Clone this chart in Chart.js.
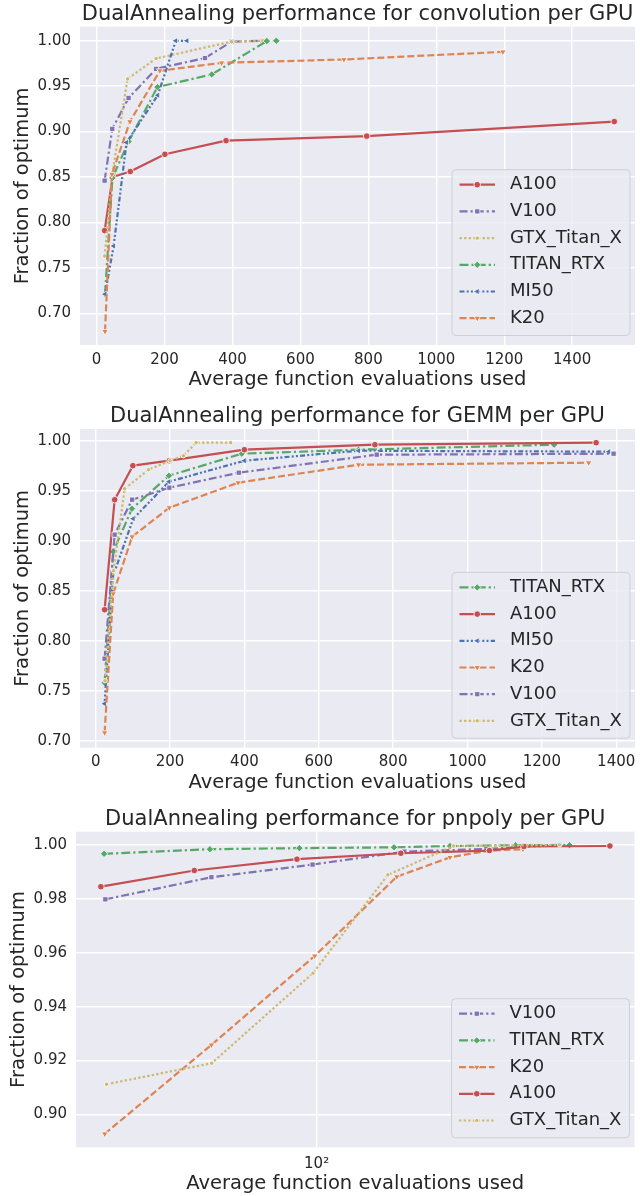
<!DOCTYPE html>
<html><head><meta charset="utf-8">
<script src="https://cdn.jsdelivr.net/npm/chart.js@4.4.1/dist/chart.umd.min.js"></script>
<style>
html,body{margin:0;padding:0;background:#fff;}
.wrap{position:absolute;left:0;width:641px;}
canvas{display:block;}
</style></head><body>
<div class="wrap" style="top:0;height:400px"><canvas id="c1" width="641" height="400"></canvas></div>
<div class="wrap" style="top:400px;height:404px"><canvas id="c2" width="641" height="404"></canvas></div>
<div class="wrap" style="top:804px;height:392px"><canvas id="c3" width="641" height="392"></canvas></div>
<script>
// ---------- DATA ----------
// Chart 1: convolution
const convTitle = 'DualAnnealing performance for convolution per GPU';
const convOrder = ['A100','V100','GTX_Titan_X','TITAN_RTX','MI50','K20'];
const convA100X = [23.5, 47, 99, 201, 381, 795, 1524];
const convA100Y = [0.791, 0.850, 0.856, 0.875, 0.890, 0.895, 0.911];
const convV100X = [23.5, 46, 94, 175, 319, 397, 489];
const convV100Y = [0.846, 0.903, 0.937, 0.969, 0.981, 0.999, 1.000];
const convGTXX = [23.5, 47, 91, 175, 397, 489];
const convGTXY = [0.763, 0.855, 0.958, 0.9805, 0.999, 1.000];
const convTITANX = [24.7, 46.5, 94, 179, 339, 501, 529];
const convTITANY = [0.721, 0.849, 0.889, 0.949, 0.963, 0.9997, 1.000];
const convMI50X = [24.7, 50, 88, 180, 233, 266];
const convMI50Y = [0.721, 0.774, 0.888, 0.940, 1.000, 1.000];
const convK20X = [24.7, 45, 98, 186, 368, 728, 1196];
const convK20Y = [0.680, 0.853, 0.911, 0.967, 0.9757, 0.9794, 0.9878];
const convXTicks = [0, 200, 400, 600, 800, 1000, 1200, 1400];
const convYTicks = [0.70, 0.75, 0.80, 0.85, 0.90, 0.95, 1.00];

// Chart 2: GEMM
const gemmTitle = 'DualAnnealing performance for GEMM per GPU';
const gemmOrder = ['TITAN_RTX','A100','MI50','K20','V100','GTX_Titan_X'];
const gemmTITANX = [24, 47, 97.6, 197, 393, 707, 1233];
const gemmTITANY = [0.758, 0.889, 0.932, 0.965, 0.987, 0.991, 0.996];
const gemmA100X = [24, 51, 100, 198, 400, 751, 1346];
const gemmA100Y = [0.831, 0.941, 0.975, 0.980, 0.991, 0.996, 0.998];
const gemmMI50X = [24, 46, 101, 197, 400, 707, 1380];
const gemmMI50Y = [0.737, 0.864, 0.922, 0.959, 0.980, 0.990, 0.989];
const gemmK20X = [24, 47, 98, 198, 383, 707, 1326];
const gemmK20Y = [0.708, 0.847, 0.904, 0.933, 0.958, 0.976, 0.978];
const gemmV100X = [24, 51, 98, 198, 385, 756, 1393];
const gemmV100Y = [0.782, 0.906, 0.941, 0.953, 0.968, 0.986, 0.987];
const gemmGTXX = [25, 48, 78, 142, 200, 236, 270, 363];
const gemmGTXY = [0.760, 0.870, 0.952, 0.971, 0.980, 0.985, 0.998, 0.998];
const gemmXTicks = [0, 200, 400, 600, 800, 1000, 1200, 1400];
const gemmYTicks = [0.70, 0.75, 0.80, 0.85, 0.90, 0.95, 1.00];

// Chart 3: pnpoly (log x)
const pnTitle = 'DualAnnealing performance for pnpoly per GPU';
const pnOrder = ['V100','TITAN_RTX','K20','A100','GTX_Titan_X'];
const pnV100X = [22.9, 48, 97.2, 184.5, 327, 545];
const pnV100Y = [0.9798, 0.9880, 0.9927, 0.9975, 0.9985, 1.0000];
const pnTITANX = [22.7, 47.5, 88.7, 171.6, 253.7, 401, 584];
const pnTITANY = [0.9967, 0.9984, 0.9988, 0.9991, 0.9996, 0.9999, 0.9999];
const pnK20X = [22.8, 48, 98.7, 175, 253.7, 334, 422];
const pnK20Y = [0.8928, 0.9258, 0.9588, 0.9882, 0.9954, 0.9979, 0.9984];
const pnA100X = [22.2, 42.6, 87.2, 180, 334, 425, 774];
const pnA100Y = [0.9845, 0.9905, 0.9947, 0.9969, 0.9979, 0.9994, 0.9996];
const pnGTXX = [23.1, 48.1, 97.5, 164.4, 260, 545];
const pnGTXY = [0.9112, 0.9190, 0.9524, 0.9889, 0.9996, 1.0000];
const pnXTicks = [100];
const pnYTicks = [0.90, 0.92, 0.94, 0.96, 0.98, 1.00];

const xLabel = 'Average function evaluations used';
const yLabel = 'Fraction of optimum';

// ---------- STYLE ----------
Chart.defaults.font.family = "'DejaVu Sans', sans-serif";
const TXT = '#262626';
const STYLE = {
  A100:        {color:'#C44E52', dash:[],                  point:'circle',   r:3.3, rot:0},
  V100:        {color:'#8172B3', dash:[8,3,2.2,3],         point:'rect',     r:3.7, rot:0},
  GTX_Titan_X: {color:'#CCB974', dash:[2.4,2.2],           point:'circle',   r:2.2, rot:0},
  TITAN_RTX:   {color:'#55A868', dash:[9,3,2.2,3],         point:'rectRot',  r:3.7, rot:0},
  MI50:        {color:'#4C72B0', dash:[5,2.2,2,2.2,2,2.2], point:'triangle', r:3.8, rot:270},
  K20:         {color:'#DD8452', dash:[7,3],               point:'triangle', r:3.8, rot:180}
};

const decor = {
  id: 'decor',
  beforeDraw(chart) {
    const {ctx, chartArea: a} = chart;
    ctx.save();
    ctx.fillStyle = '#EAEAF2';
    ctx.fillRect(a.left, a.top, a.right - a.left, a.bottom - a.top);
    ctx.restore();
  },
  afterDraw(chart, args, o) {
    const {ctx, chartArea: a} = chart;
    ctx.save();
    ctx.fillStyle = TXT;
    ctx.textAlign = 'center';
    ctx.textBaseline = 'middle';
    ctx.font = "21px 'DejaVu Sans'";
    ctx.fillText(o.title, (a.left + a.right) / 2, a.top - o.titleGap);
    ctx.font = "19.5px 'DejaVu Sans'";
    ctx.fillText(xLabel, (a.left + a.right) / 2, a.bottom + o.xLabelGap);
    ctx.translate(o.yLabelX, (a.top + a.bottom) / 2);
    ctx.rotate(-Math.PI / 2);
    ctx.fillText(yLabel, 0, 0);
    ctx.restore();

    // legend
    const n = o.names.length;
    const rowH = 26.7;
    const w = 178, h = n * rowH + 5.6;
    const right = a.right - 5, bottom = a.bottom - 9.5;
    const left = right - w, top = bottom - h;
    ctx.save();
    ctx.beginPath();
    ctx.roundRect(left, top, w, h, 4);
    ctx.fillStyle = 'rgba(234,234,242,0.8)';
    ctx.fill();
    ctx.lineWidth = 1;
    ctx.strokeStyle = '#cfcfd6';
    ctx.stroke();
    o.names.forEach((name, i) => {
      const st = STYLE[name];
      const y = top + 15 + i * rowH;
      ctx.save();
      ctx.strokeStyle = st.color;
      ctx.lineWidth = 2.2;
      ctx.setLineDash(st.dash);
      ctx.beginPath();
      ctx.moveTo(left + 7.5, y);
      ctx.lineTo(left + 43, y);
      ctx.stroke();
      ctx.setLineDash([]);
      ctx.fillStyle = st.color;
      ctx.strokeStyle = '#fff';
      ctx.lineWidth = 0.8;
      Chart.helpers.drawPoint(ctx, {pointStyle: st.point, radius: st.r, rotation: st.rot, borderWidth: 0.8}, left + 25.25, y);
      ctx.restore();
      ctx.fillStyle = TXT;
      ctx.font = "18px 'DejaVu Sans'";
      ctx.textAlign = 'left';
      ctx.textBaseline = 'middle';
      ctx.fillText(name, left + 58, y);
    });
    ctx.restore();
  }
};

function makeChart(id, cfg) {
  const n = cfg.series.length;
  const datasets = cfg.series.map((s, i) => {
    const st = STYLE[s.name];
    return {
      label: s.name,
      data: s.x.map((xv, j) => ({x: xv, y: s.y[j]})),
      borderColor: st.color,
      backgroundColor: st.color,
      borderWidth: 2.2,
      borderDash: st.dash,
      borderJoinStyle: 'round',
      pointStyle: st.point,
      pointRadius: st.r,
      pointHoverRadius: st.r,
      pointRotation: st.rot,
      pointBackgroundColor: st.color,
      pointBorderColor: '#fff',
      pointBorderWidth: 0.8,
      tension: 0,
      fill: false,
      order: n - 1 - i
    };
  });
  const tickFont = {size: 15, family: "'DejaVu Sans'"};
  return new Chart(document.getElementById(id), {
    type: 'line',
    data: {datasets},
    options: {
      responsive: false,
      animation: false,
      events: [],
      layout: {padding: {left: 0, top: cfg.top, right: cfg.right, bottom: 0}},
      plugins: {
        legend: {display: false},
        tooltip: {enabled: false},
        title: {display: false},
        decor: {title: cfg.title, names: cfg.names, titleGap: cfg.titleGap, xLabelGap: cfg.xLabelGap, yLabelX: cfg.yLabelX}
      },
      scales: {
        x: {
          type: cfg.xType,
          min: cfg.xMin, max: cfg.xMax,
          grid: {color: '#ffffff', lineWidth: 1.4, drawTicks: false},
          border: {display: false},
          ticks: {
            font: tickFont, color: TXT, padding: cfg.xPad, maxRotation: 0, autoSkip: false,
            callback: cfg.xFmt
          },
          afterBuildTicks: s => { s.ticks = cfg.xTicks.map(v => ({value: v})); },
          afterFit: s => { s.height = cfg.xH; }
        },
        y: {
          type: 'linear',
          min: cfg.yMin, max: cfg.yMax,
          grid: {color: '#ffffff', lineWidth: 1.4, drawTicks: false},
          border: {display: false},
          ticks: {font: tickFont, color: TXT, padding: 9, callback: v => Number(v).toFixed(2)},
          afterBuildTicks: s => { s.ticks = cfg.yTicks.map(v => ({value: v})); },
          afterFit: s => { s.width = cfg.yW; }
        }
      }
    },
    plugins: [decor]
  });
}

const SER = (name, x, y) => ({name, x, y});

makeChart('c1', {
  title: convTitle, names: convOrder,
  series: [SER('A100', convA100X, convA100Y), SER('V100', convV100X, convV100Y),
           SER('GTX_Titan_X', convGTXX, convGTXY), SER('TITAN_RTX', convTITANX, convTITANY),
           SER('MI50', convMI50X, convMI50Y), SER('K20', convK20X, convK20Y)],
  top: 26.7, right: 6, xH: 55, yW: 80, xPad: 6,
  xType: 'linear', xMin: -49, xMax: 1585, xTicks: convXTicks, xFmt: v => String(v),
  yMin: 0.665, yMax: 1.0155, yTicks: convYTicks,
  titleGap: 12, xLabelGap: 35, yLabelX: 23
});

makeChart('c2', {
  title: gemmTitle, names: gemmOrder,
  series: [SER('TITAN_RTX', gemmTITANX, gemmTITANY), SER('A100', gemmA100X, gemmA100Y),
           SER('MI50', gemmMI50X, gemmMI50Y), SER('K20', gemmK20X, gemmK20Y),
           SER('V100', gemmV100X, gemmV100Y), SER('GTX_Titan_X', gemmGTXX, gemmGTXY)],
  top: 29, right: 6, xH: 56.3, yW: 80, xPad: 5.5,
  xType: 'linear', xMin: -42.2, xMax: 1450.5, xTicks: gemmXTicks, xFmt: v => String(v),
  yMin: 0.693, yMax: 1.0117, yTicks: gemmYTicks,
  titleGap: 12, xLabelGap: 35, yLabelX: 23
});

makeChart('c3', {
  title: pnTitle, names: pnOrder,
  series: [SER('V100', pnV100X, pnV100Y), SER('TITAN_RTX', pnTITANX, pnTITANY),
           SER('K20', pnK20X, pnK20Y), SER('A100', pnA100X, pnA100Y),
           SER('GTX_Titan_X', pnGTXX, pnGTXY)],
  top: 27.7, right: 6.5, xH: 48.7, yW: 76, xPad: 7.5,
  xType: 'logarithmic', xMin: 18.66, xMax: 919, xTicks: pnXTicks, xFmt: v => (v === 100 ? '10²' : ''),
  yMin: 0.8878, yMax: 1.0049, yTicks: pnYTicks,
  titleGap: 12, xLabelGap: 37, yLabelX: 18.5
});
</script>
</body></html>
